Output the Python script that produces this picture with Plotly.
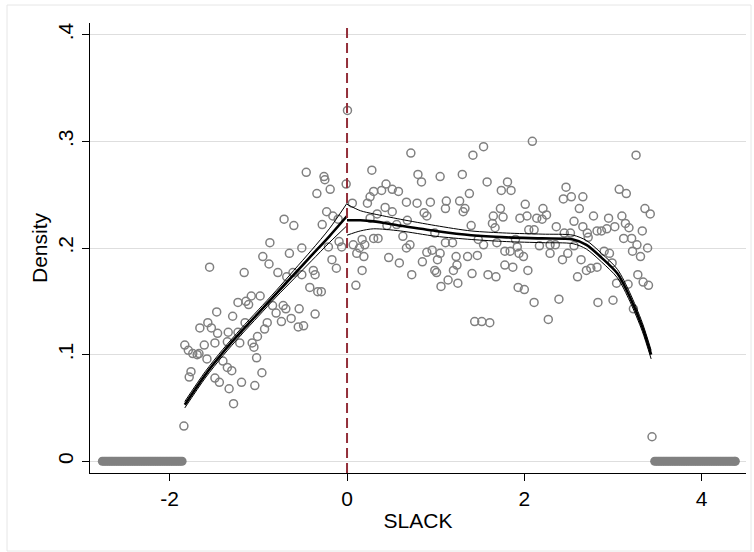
import plotly.graph_objects as go

# ---- data ----
bin_x = [-1.84, -1.83, -1.79, -1.78, -1.76, -1.74, -1.69, -1.67, -1.66, -1.61, -1.58, -1.57, -1.55, -1.53,
         -1.49, -1.49, -1.47, -1.46, -1.44, -1.40, -1.35, -1.35, -1.34, -1.33, -1.30, -1.29, -1.28, -1.23,
         -1.23, -1.21, -1.19, -1.16, -1.15, -1.14, -1.11, -1.08, -1.07, -1.05, -1.04, -1.02, -1.01, -0.98,
         -0.96, -0.95, -0.93, -0.90, -0.88, -0.87, -0.84, -0.80, -0.78, -0.74, -0.72, -0.71, -0.69, -0.68,
         -0.65, -0.63, -0.61, -0.60, -0.55, -0.54, -0.51, -0.51, -0.49, -0.46, -0.42, -0.38, -0.36, -0.36,
         -0.34, -0.33, -0.29, -0.28, -0.26, -0.25, -0.23, -0.21, -0.19, -0.17, -0.16, -0.12, -0.10, -0.09,
         -0.06, -0.01, 0.005,
         0.06, 0.07, 0.10, 0.11, 0.14, 0.17, 0.17, 0.19, 0.20, 0.23, 0.26, 0.26, 0.28, 0.30, 0.30, 0.34,
         0.35, 0.39, 0.43, 0.44, 0.45, 0.47, 0.51, 0.51, 0.56, 0.58, 0.59, 0.63, 0.67, 0.67, 0.68, 0.71,
         0.72, 0.73, 0.79, 0.80, 0.84, 0.85, 0.87, 0.90, 0.90, 0.94, 0.96, 0.99, 0.99, 1.01, 1.02, 1.05,
         1.05, 1.06, 1.11, 1.11, 1.12, 1.14, 1.19, 1.20, 1.23, 1.24, 1.25, 1.27, 1.30, 1.31, 1.33, 1.36,
         1.38, 1.40, 1.41, 1.42, 1.44, 1.47, 1.48, 1.52, 1.54, 1.54, 1.58, 1.59, 1.61, 1.64, 1.65, 1.67,
         1.68, 1.69, 1.73, 1.74, 1.76, 1.78, 1.78, 1.81, 1.84, 1.85, 1.87, 1.90, 1.92, 1.93, 1.94, 1.95,
         1.99, 2.00, 2.01, 2.03, 2.04, 2.05, 2.09, 2.11, 2.11, 2.14, 2.17, 2.20, 2.21, 2.25, 2.27, 2.29,
         2.29, 2.35, 2.36, 2.39, 2.43, 2.44, 2.45, 2.47, 2.49, 2.52, 2.53, 2.56, 2.56, 2.60, 2.62, 2.64,
         2.66, 2.66, 2.70, 2.71, 2.72, 2.75, 2.78, 2.82, 2.82, 2.83, 2.87, 2.90, 2.93, 2.95, 2.96, 2.99,
         3.00, 3.02, 3.04, 3.07, 3.10, 3.12, 3.14, 3.15, 3.17, 3.18, 3.21, 3.22, 3.23, 3.26, 3.27, 3.28,
         3.31, 3.33, 3.34, 3.36, 3.39, 3.40, 3.42, 3.44]
bin_y = [0.033, 0.109, 0.104, 0.079, 0.084, 0.101, 0.100, 0.101, 0.125, 0.109, 0.096, 0.130, 0.182, 0.125,
         0.111, 0.078, 0.140, 0.120, 0.074, 0.094, 0.112, 0.088, 0.121, 0.068, 0.085, 0.136, 0.054, 0.149,
         0.121, 0.111, 0.074, 0.177, 0.130, 0.150, 0.147, 0.155, 0.111, 0.107, 0.071, 0.097, 0.117, 0.155,
         0.083, 0.192, 0.124, 0.130, 0.185, 0.205, 0.146, 0.139, 0.177, 0.131, 0.146, 0.227, 0.143, 0.173,
         0.195, 0.134, 0.177, 0.221, 0.126, 0.143, 0.200, 0.175, 0.127, 0.271, 0.163, 0.179, 0.175, 0.138,
         0.251, 0.159, 0.159, 0.222, 0.267, 0.264, 0.234, 0.201, 0.255, 0.189, 0.230, 0.181, 0.227, 0.206,
         0.201, 0.260, 0.329,
         0.242, 0.203, 0.165, 0.195, 0.200, 0.208, 0.179, 0.192, 0.203, 0.242, 0.248, 0.228, 0.273, 0.253,
         0.209, 0.232, 0.209, 0.254, 0.238, 0.260, 0.221, 0.191, 0.255, 0.234, 0.222, 0.253, 0.186, 0.211,
         0.243, 0.200, 0.226, 0.203, 0.289, 0.175, 0.242, 0.269, 0.262, 0.187, 0.233, 0.230, 0.196, 0.243,
         0.198, 0.214, 0.179, 0.177, 0.189, 0.267, 0.195, 0.164, 0.237, 0.205, 0.244, 0.170, 0.205, 0.179,
         0.192, 0.184, 0.167, 0.244, 0.269, 0.234, 0.237, 0.192, 0.251, 0.221, 0.176, 0.287, 0.131, 0.193,
         0.208, 0.131, 0.295, 0.203, 0.262, 0.175, 0.130, 0.223, 0.230, 0.219, 0.173, 0.205, 0.237, 0.254,
         0.229, 0.197, 0.184, 0.262, 0.197, 0.254, 0.182, 0.208, 0.201, 0.163, 0.195, 0.228, 0.192, 0.161,
         0.241, 0.230, 0.179, 0.217, 0.300, 0.217, 0.149, 0.228, 0.202, 0.227, 0.237, 0.231, 0.133, 0.203,
         0.195, 0.203, 0.220, 0.152, 0.189, 0.246, 0.214, 0.257, 0.195, 0.214, 0.248, 0.225, 0.202, 0.173,
         0.237, 0.189, 0.248, 0.220, 0.179, 0.214, 0.210, 0.181, 0.230, 0.216, 0.182, 0.149, 0.216, 0.197,
         0.218, 0.228, 0.195, 0.186, 0.151, 0.220, 0.167, 0.255, 0.230, 0.209, 0.223, 0.251, 0.166, 0.219,
         0.209, 0.197, 0.143, 0.287, 0.203, 0.175, 0.192, 0.216, 0.168, 0.237, 0.200, 0.165, 0.232, 0.023]

zero_left_x = [-2.76, -2.74, -2.72, -2.70, -2.68, -2.66, -2.64, -2.62, -2.60, -2.58, -2.56, -2.54,
               -2.52, -2.50, -2.48, -2.46, -2.44, -2.42, -2.40, -2.38, -2.36, -2.34, -2.32, -2.30,
               -2.28, -2.26, -2.24, -2.22, -2.20, -2.18, -2.16, -2.14, -2.12, -2.10, -2.08, -2.06,
               -2.04, -2.02, -2.00, -1.98, -1.96, -1.94, -1.92, -1.90, -1.88, -1.86]
zero_right_x = [3.47, 3.49, 3.51, 3.53, 3.55, 3.57, 3.59, 3.61, 3.63, 3.65, 3.67, 3.69, 3.71,
                3.73, 3.75, 3.77, 3.79, 3.81, 3.83, 3.85, 3.87, 3.89, 3.91, 3.93, 3.95, 3.97,
                3.99, 4.01, 4.03, 4.05, 4.07, 4.09, 4.11, 4.13, 4.15, 4.17, 4.19, 4.21, 4.23,
                4.25, 4.27, 4.29, 4.31, 4.33, 4.35, 4.37, 4.38]
zero_left_y = [0.0] * len(zero_left_x)
zero_right_y = [0.0] * len(zero_right_x)

fit_left_x = [-1.83, -1.6, -1.4, -1.2, -1.0, -0.8, -0.6, -0.4, -0.2, 0.0]
fit_left_y = [0.053, 0.081, 0.102, 0.121, 0.139, 0.157, 0.175, 0.193, 0.211, 0.230]
fit_left_hi = [0.056, 0.084, 0.105, 0.124, 0.142, 0.160, 0.179, 0.198, 0.218, 0.242]
fit_left_lo = [0.050, 0.078, 0.099, 0.118, 0.136, 0.154, 0.171, 0.188, 0.205, 0.221]

fit_right_x = [0.0, 0.15, 0.3, 0.6, 1.0, 1.4, 1.8, 2.2, 2.55, 2.7, 2.87, 3.05, 3.19, 3.33, 3.43]
fit_right_y = [0.226, 0.226, 0.225, 0.221, 0.216, 0.212, 0.210, 0.209, 0.208, 0.203, 0.191, 0.176, 0.154, 0.126, 0.100]
fit_right_hi = [0.241, 0.235, 0.232, 0.227, 0.221, 0.216, 0.214, 0.213, 0.212, 0.207, 0.195, 0.180, 0.158, 0.130, 0.104]
fit_right_lo = [0.212, 0.216, 0.218, 0.216, 0.211, 0.208, 0.206, 0.205, 0.204, 0.199, 0.187, 0.172, 0.150, 0.122, 0.096]

cutoff = 0.0
y_tickvals = [0, 0.1, 0.2, 0.3, 0.4]
y_ticktext = ["0", ".1", ".2", ".3", ".4"]
x_tickvals = [-2, 0, 2, 4]
x_ticktext = ["-2", "0", "2", "4"]

# ---- figure ----
GRAY = "#808080"
fig = go.Figure()

fig.add_trace(go.Scatter(x=bin_x, y=bin_y, mode="markers",
                         marker=dict(symbol="circle-open", size=8, color=GRAY, line=dict(width=1.5, color=GRAY)),
                         showlegend=False, hoverinfo="skip"))
for zx, zy in ((zero_left_x, zero_left_y), (zero_right_x, zero_right_y)):
    fig.add_trace(go.Scatter(x=zx, y=zy, mode="markers",
                             marker=dict(symbol="circle", size=9, color=GRAY, line=dict(width=0)),
                             showlegend=False, hoverinfo="skip"))

for fx, fy, fhi, flo in ((fit_left_x, fit_left_y, fit_left_hi, fit_left_lo),
                         (fit_right_x, fit_right_y, fit_right_hi, fit_right_lo)):
    for yy in (fhi, flo):
        fig.add_trace(go.Scatter(x=fx, y=yy, mode="lines",
                                 line=dict(color="black", width=1, shape="spline", smoothing=0.8),
                                 showlegend=False, hoverinfo="skip"))
    fig.add_trace(go.Scatter(x=fx, y=fy, mode="lines",
                             line=dict(color="black", width=2.6, shape="spline", smoothing=0.8),
                             showlegend=False, hoverinfo="skip"))

fig.add_shape(type="line", xref="x", yref="paper", x0=cutoff, x1=cutoff, y0=0, y1=1,
              line=dict(color="#932f3a", width=2, dash="10px,5px"), layer="above")

# outer graph-region frame
L, R, T, B = 90, 8, 23, 79
W, H = 754, 552
pw, ph = W - L - R, H - T - B
fig.add_shape(type="rect", xref="paper", yref="paper",
              x0=(7 - L) / pw, x1=(751 - L) / pw, y0=(H - B - 551) / ph, y1=(H - B - 5) / ph,
              line=dict(color="#e6e6e6", width=1), fillcolor="rgba(0,0,0,0)", layer="below")

FONT = "Liberation Sans, Arial, sans-serif"
fig.update_layout(
    width=W, height=H,
    margin=dict(l=L, r=R, t=T, b=B, autoexpand=False),
    paper_bgcolor="white", plot_bgcolor="white",
    font=dict(family=FONT, color="black", size=20),
    xaxis=dict(range=[-2.899, 4.50], tickvals=x_tickvals, ticktext=x_ticktext,
               showgrid=False, zeroline=False, showline=True, linecolor="black", linewidth=1.3,
               ticks="outside", ticklen=7, tickwidth=1.3, tickcolor="black",
               tickfont=dict(size=21), automargin=False,
               title=dict(text="SLACK", font=dict(size=21), standoff=3)),
    yaxis=dict(range=[-0.011, 0.411], tickvals=y_tickvals, ticktext=y_ticktext,
               showgrid=True, gridcolor="#dedede", gridwidth=1.2, zeroline=False,
               showline=True, linecolor="black", linewidth=1.3,
               ticks="outside", ticklen=7, tickwidth=1.3, tickcolor="black",
               tickangle=-90, tickfont=dict(size=21), automargin=False,
               title=dict(text="Density", font=dict(size=21), standoff=1)),
)

fig.write_html("out.html", config={"displayModeBar": False},
               post_script="document.body.style.margin='0';document.body.style.overflow='hidden';")
